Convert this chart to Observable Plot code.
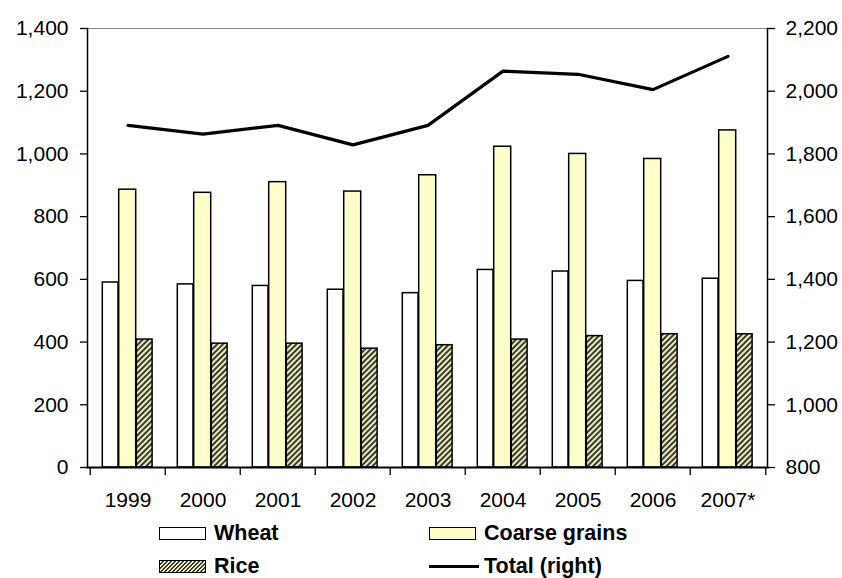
<!DOCTYPE html>
<html>
<head>
<meta charset="utf-8">
<script src="https://cdn.jsdelivr.net/npm/d3@7"></script>
<script src="https://cdn.jsdelivr.net/npm/@observablehq/plot@0.6"></script>
<style>
  html, body { margin: 0; padding: 0; background: #fff; }
  #wrap { position: relative; width: 842px; height: 578px; font-family: "Liberation Sans", Arial, sans-serif; }
  .lg { position: absolute; display: flex; align-items: center; font-family: "Liberation Sans", Arial, sans-serif; font-weight: bold; font-size: 21.5px; color: #000; white-space: nowrap; line-height: 25px; height: 25px; }
  .sw { width: 45px; height: 11px; border: 1.5px solid #000; margin-right: 8px; box-sizing: content-box; }
  .ln { width: 50px; height: 0; border-top: 3px solid #000; margin-right: 5px; }
</style>
</head>
<body>
<svg width="0" height="0" style="position:absolute">
  <defs>
    <pattern id="hatch" patternUnits="userSpaceOnUse" width="4" height="4" patternTransform="rotate(45)">
      <rect width="4" height="4" fill="#ecebbd"></rect>
      <rect width="2" height="4" fill="#3a3a32"></rect>
    </pattern>
  </defs>
</svg>
<div id="wrap"></div>
<script>
const years  = ["1999", "2000", "2001", "2002", "2003", "2004", "2005", "2006", "2007*"];
const wheat  = [590, 584, 579, 567, 556, 630, 625, 595, 602];
const coarse = [886, 876, 910, 880, 932, 1023, 1000, 984, 1075];
const rice   = [408, 395, 395, 379, 390, 408, 419, 425, 425];
const total  = [1891, 1863, 1891, 1829, 1891, 2064, 2054, 2005, 2111];
const leftTicks  = [0, 200, 400, 600, 800, 1000, 1200, 1400];
const rightTicks = [800, 1000, 1200, 1400, 1600, 1800, 2000, 2200];
const rightOffset = 800; // right axis 800..2200 maps onto left 0..1400

const rows = years.map((y, i) => ({year: y, wheat: wheat[i], coarse: coarse[i], rice: rice[i], total: total[i]}));

const W = 842, H = 512, mL = 87, mR = 75, mT = 28, mB = 45;
const bw = (W - mL - mR) / years.length;
const frameH = H - mT - mB;

const chart = Plot.plot({
  width: W,
  height: H,
  marginTop: mT,
  marginBottom: mB,
  marginLeft: mL,
  marginRight: mR,
  style: {fontFamily: "'Liberation Sans', Arial, sans-serif", fontSize: "20px", color: "#000", background: "#fff", overflow: "visible"},
  x: {type: "band", domain: years, padding: 0, axis: null, label: null},
  y: {domain: [0, 1400], axis: null, label: null},
  marks: [
    Plot.ruleY([1400], {stroke: "#888", strokeWidth: 1}),
    Plot.barY(rows, {x: "year", y: "wheat", fill: "#fff", stroke: "#000", strokeWidth: 1.5, insetLeft: 12.3, insetRight: 47}),
    Plot.barY(rows, {x: "year", y: "coarse", fill: "#ffffcc", stroke: "#000", strokeWidth: 1.5, insetLeft: 28.7, insetRight: 29.3}),
    Plot.barY(rows, {x: "year", y: "rice", fill: "url(#hatch)", stroke: "#000", strokeWidth: 1.5, insetLeft: 46.3, insetRight: 12.9}),
    Plot.line(rows, {x: "year", y: d => d.total - rightOffset, stroke: "#000", strokeWidth: 3.2, strokeLinejoin: "miter"}),
    Plot.frame({anchor: "left", stroke: "#000", strokeWidth: 1.5}),
    Plot.frame({anchor: "right", stroke: "#000", strokeWidth: 1.5}),
    Plot.frame({anchor: "bottom", stroke: "#000", strokeWidth: 2}),
    Plot.tickX(years, {x: d => d, dx: -bw / 2, insetTop: frameH, insetBottom: -8, stroke: "#000", strokeWidth: 1.3}),
    Plot.tickX(years.slice(-1), {x: d => d, dx: bw / 2, insetTop: frameH, insetBottom: -8, stroke: "#000", strokeWidth: 1.3}),
    Plot.axisY({anchor: "left", label: null, ticks: leftTicks, tickFormat: d3.format(","), tickSize: 7, tickPadding: 12, fontSize: 21, strokeWidth: 1.3}),
    Plot.axisY({anchor: "right", label: null, ticks: rightTicks.map(v => v - rightOffset), tickFormat: d => d3.format(",")(d + rightOffset), tickSize: 7, tickPadding: 11, fontSize: 21, strokeWidth: 1.3}),
    Plot.axisX({anchor: "bottom", label: null, ticks: years, tickSize: 0, tickPadding: 25, fontSize: 21})
  ]
});

const wrap = document.getElementById("wrap");
wrap.appendChild(chart);

const legendItems = [
  {label: "Wheat", kind: "sw", bg: "#fff", left: 159, top: 521},
  {label: "Coarse grains", kind: "sw", bg: "#ffffcc", left: 429, top: 521},
  {label: "Rice", kind: "sw", bg: "hatch", left: 159, top: 554},
  {label: "Total (right)", kind: "ln", left: 429, top: 554}
];
for (const it of legendItems) {
  const d = document.createElement("div");
  d.className = "lg";
  d.style.left = it.left + "px";
  d.style.top = it.top + "px";
  const s = document.createElement("div");
  s.className = it.kind;
  if (it.kind === "sw") {
    if (it.bg === "hatch") {
      s.style.background = "repeating-linear-gradient(-45deg, #3a3a32 0px, #3a3a32 1.4px, #ecebbd 1.4px, #ecebbd 2.8px)";
    } else {
      s.style.background = it.bg;
    }
  }
  d.appendChild(s);
  const t = document.createElement("span");
  t.textContent = it.label;
  d.appendChild(t);
  wrap.appendChild(d);
}
</script>
</body>
</html>
